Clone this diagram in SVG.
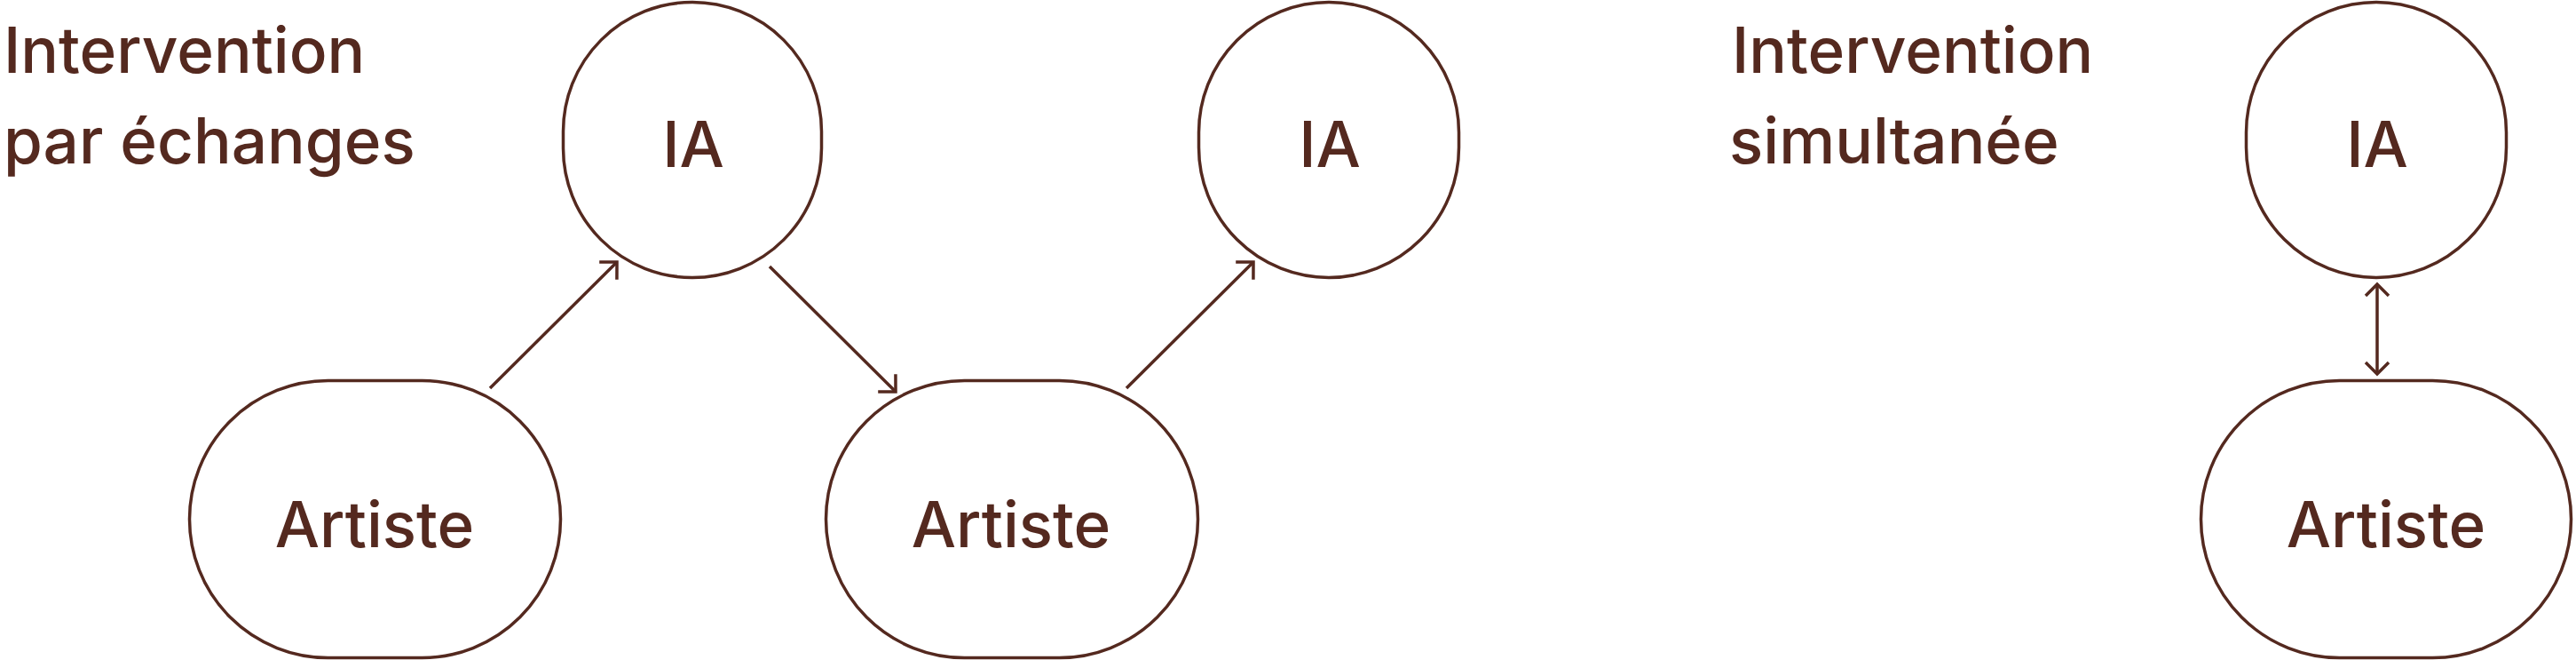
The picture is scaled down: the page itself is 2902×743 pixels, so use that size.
<svg xmlns="http://www.w3.org/2000/svg" width="2902" height="743" viewBox="0 0 2902 743">
  <style>
    .node { fill: none; stroke: #54291f; stroke-width: 3.5; }
    .lbl { font-family: Inter, "Liberation Sans", Arial, sans-serif; font-weight: 500; font-size: 71px; fill: #54291f; letter-spacing: 0px; }
    .mid { text-anchor: middle; }
    .conn { fill: none; stroke: #54291f; stroke-width: 3.5; }
  </style>
  <defs>
    <marker id="head" markerUnits="userSpaceOnUse" viewBox="-20 -20 40 40" markerWidth="40" markerHeight="40" refX="0" refY="0" orient="auto-start-reverse" overflow="visible">
      <path d="M -14 -14 L 0 0 L -14 14" fill="none" stroke="#54291f" stroke-width="3.5"/>
    </marker>
    <marker id="headS" markerUnits="userSpaceOnUse" viewBox="-20 -20 40 40" markerWidth="40" markerHeight="40" refX="0" refY="0" orient="auto-start-reverse" overflow="visible">
      <path d="M -13 -13 L 0 0 L -13 13" fill="none" stroke="#54291f" stroke-width="3.5"/>
    </marker>
  </defs>
  <rect width="2902" height="743" fill="#ffffff"/>

  <g id="title-echanges">
    <text class="lbl" x="4" y="82">Intervention</text>
    <text class="lbl" x="4" y="184">par échanges</text>
  </g>
  <g id="title-simultanee">
    <text class="lbl" x="1951" y="82">Intervention</text>
    <text class="lbl" x="1948" y="184">simultanée</text>
  </g>

  <g id="artiste1">
    <rect class="node" x="213.5" y="428.5" width="418" height="312" rx="156" ry="156"/>
    <text class="lbl mid" x="422" y="616">Artiste</text>
  </g>
  <g id="ia1">
    <rect class="node" x="634.5" y="2.5" width="291" height="310" rx="145.5" ry="145.5"/>
    <text class="lbl mid" x="781" y="188">IA</text>
  </g>
  <g id="artiste2">
    <rect class="node" x="930.5" y="428.5" width="419" height="312" rx="156" ry="156"/>
    <text class="lbl mid" x="1139" y="616">Artiste</text>
  </g>
  <g id="ia2">
    <rect class="node" x="1350.5" y="2.5" width="293" height="310" rx="146.5" ry="146.5"/>
    <text class="lbl mid" x="1498" y="188">IA</text>
  </g>
  <g id="ia3">
    <rect class="node" x="2530.5" y="2.5" width="293" height="310" rx="146.5" ry="146.5"/>
    <text class="lbl mid" x="2678" y="188">IA</text>
  </g>
  <g id="artiste3">
    <rect class="node" x="2479.5" y="428.5" width="417" height="312" rx="156" ry="156"/>
    <text class="lbl mid" x="2688" y="616">Artiste</text>
  </g>

  <g id="connectors">
    <line class="conn" x1="552" y1="437" x2="695" y2="295" marker-end="url(#head)"/>
    <line class="conn" x1="867" y1="300" x2="1009" y2="441" marker-end="url(#head)"/>
    <line class="conn" x1="1269" y1="437" x2="1412" y2="295" marker-end="url(#head)"/>
    <line class="conn" x1="2678" y1="320" x2="2678" y2="421" marker-start="url(#headS)" marker-end="url(#headS)"/>
  </g>
</svg>
